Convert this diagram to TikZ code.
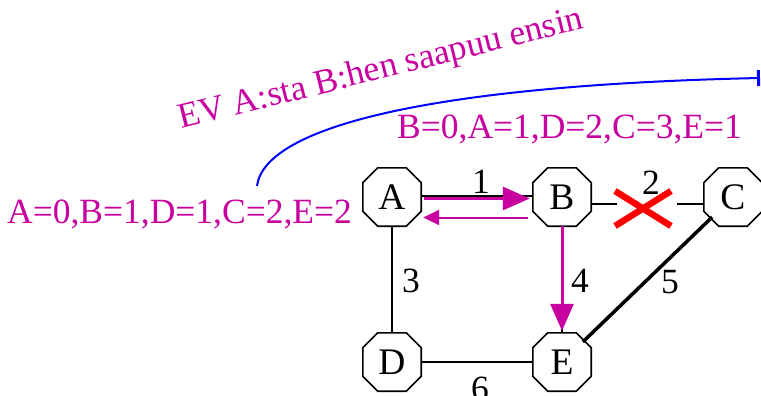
\documentclass[tikz,border=0pt]{standalone}
\usepackage{fontspec}
\setmainfont{Liberation Serif}
\usetikzlibrary{arrows.meta}
\definecolor{mag}{RGB}{200,0,160}
\begin{document}
\begin{tikzpicture}[x=1pt,y=-1pt,
  vtx/.style={rectangle, minimum width=58pt, minimum height=58pt, inner sep=0pt, font=\fontsize{37.5}{40}\selectfont},
  lbl/.style={inner sep=0pt, font=\fontsize{35.5}{40}\selectfont},
  mlbl/.style={lbl, text=mag},
  edge/.style={line width=1.5pt},
  octa/.style={line width=1.6pt},
  marrow/.style={mag, line width=3pt, -{Triangle[length=27pt,width=23pt]}},
  sarrow/.style={mag, line width=2pt, -{Triangle[length=16pt,width=15pt]}},
  cross/.style={red, line width=6.5pt},
  curve/.style={blue, line width=2pt, -{Bar[width=16pt,line width=3pt]}}]
\useasboundingbox (0,0) rectangle (761,396);

% vertices
\node[vtx] (A) at (392,197) {A};
\node[vtx] (B) at (562,197) {B};
\node[vtx] (C) at (733,197) {C};
\node[vtx] (D) at (392,362) {D};
\node[vtx] (E) at (562,362) {E};
\foreach \n in {A,B,C,D,E}
  \draw[octa] ([xshift=15pt]\n.north west) -- ([xshift=-15pt]\n.north east)
    -- ([yshift=-15pt]\n.north east) -- ([yshift=15pt]\n.south east)
    -- ([xshift=-15pt]\n.south east) -- ([xshift=15pt]\n.south west)
    -- ([yshift=15pt]\n.south west) -- ([yshift=-15pt]\n.north west) -- cycle;

% black edges
\coordinate (bc1) at (617,204);
\coordinate (bc2) at (677,204);
\draw[edge] ([yshift=1pt]A.east) -- ([yshift=1pt]B.west);
\draw[edge] ([yshift=-7pt]B.east) -- (bc1);
\draw[edge] (bc2) -- ([yshift=-7pt]C.west);
\draw[edge] (A.south) -- (D.north);
\draw[edge] (B.south) -- (E.north);
\draw[edge] (D.east) -- (E.west);
\draw[line width=3.5pt, shorten <=29pt, shorten >=29pt] (C.center) -- (E.center);

% magenta arrows
\draw[marrow, shorten <=3pt, shorten >=3pt] ([yshift=-1.5pt]A.east) -- ([yshift=-1.5pt]B.west);
\draw[sarrow, shorten <=5pt, shorten >=2pt] ([yshift=-20.5pt]B.west) -- ([yshift=-20.5pt]A.east);
\draw[marrow, shorten >=2pt] (B.south) -- (E.north);

% red cross
\coordinate (x1) at (615,191);
\coordinate (x2) at (671,226);
\coordinate (x3) at (615,226);
\coordinate (x4) at (671,191);
\draw[cross] (x1) -- (x2);
\draw[cross] (x3) -- (x4);

% edge weights
\node[lbl] (w1) at (481,182) {1};
\node[lbl] (w2) at (651,183) {2};
\node[lbl] (w3) at (411,281) {3};
\node[lbl] (w4) at (580,281) {4};
\node[lbl] (w5) at (670,282) {5};
\node[lbl] (w6) at (480,389) {6};

% magenta texts
\node[mlbl, anchor=base west] (ta) at (7,223) {A=0,B=1,D=1,C=2,E=2};
\node[mlbl, anchor=base west] (tb) at (397,139) {B=0,A=1,D=2,C=3,E=1};
\node[mlbl, anchor=base west, rotate=14] (tt) at (181,129) {EV A:sta B:hen saapuu ensin};

% blue curve
\coordinate (bs) at (257,186);
\coordinate (be) at (760,78);
\draw[curve] (bs) .. controls (265,125) and (440,85) .. (be);
\end{tikzpicture}
\end{document}
